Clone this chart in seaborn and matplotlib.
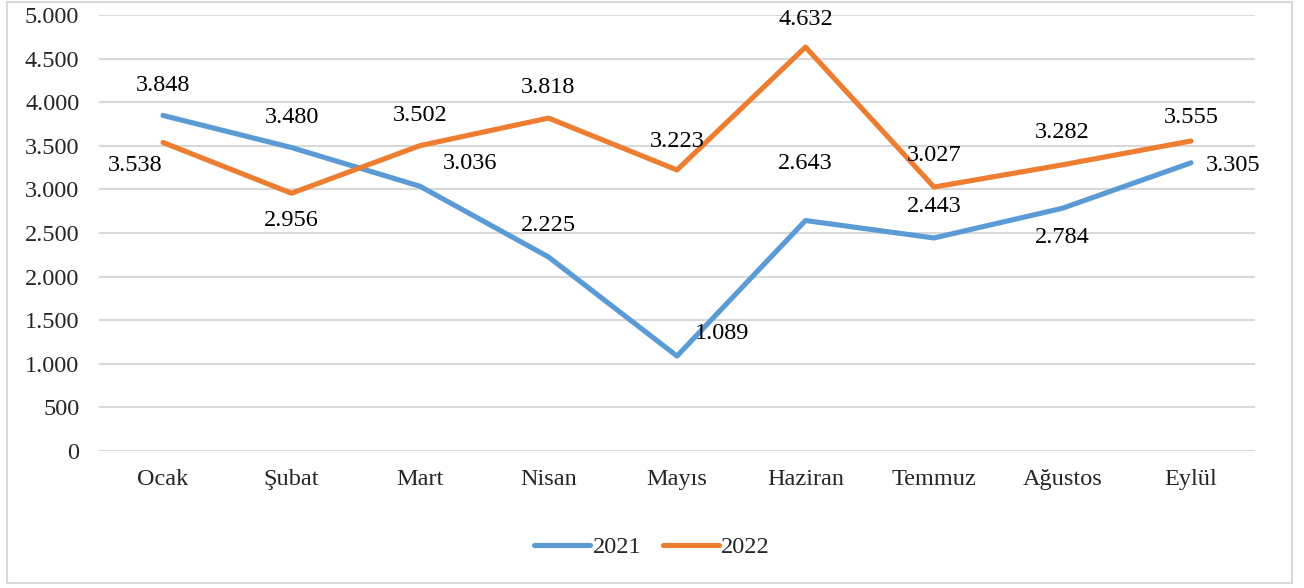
import pandas as pd
import seaborn as sns
import matplotlib.pyplot as plt
from matplotlib.patches import Rectangle
from matplotlib.ticker import FuncFormatter

# veriler
aylar = ["Ocak", "Şubat", "Mart", "Nisan", "Mayıs", "Haziran", "Temmuz", "Ağustos", "Eylül"]
y2021 = [3848, 3480, 3036, 2225, 1089, 2643, 2443, 2784, 3305]
y2022 = [3538, 2956, 3502, 3818, 3223, 4632, 3027, 3282, 3555]

# etiket konumlari (piksel kaydirma)
off2021 = [(0, 30), (0, 30), (50, 23), (0, 31), (45, 23), (0, 57), (0, 31), (0, -29), (42, -3)]
off2022 = [(-28, -23), (0, -27), (0, 30), (0, 31), (0, 28), (0, 28), (0, 32), (0, 32), (0, 24)]

df = pd.DataFrame({
    "Ay": aylar * 2,
    "Deger": y2021 + y2022,
    "Yil": ["2021"] * len(aylar) + ["2022"] * len(aylar),
})

sns.set_style("white")
plt.rcParams["font.family"] = ["Liberation Serif", "DejaVu Serif"]
fs = 17.5

fig = plt.figure(figsize=(13.04, 5.88), dpi=100)
ax = fig.add_axes([98.75 / 1304, (588 - 451) / 588, (1255.25 - 98.75) / 1304, 436 / 588])

renkler = {"2021": "#5B9BD5", "2022": "#ED7D31"}
sns.lineplot(data=df, x="Ay", y="Deger", hue="Yil", palette=renkler, sort=False,
             linewidth=3.7, ax=ax, legend=False)
for ln in ax.lines:
    ln.set_solid_capstyle("round")
    ln.set_solid_joinstyle("round")

ax.set_xlim(-0.5, len(aylar) - 0.5)
ax.set_ylim(0, 5000)
ax.set_yticks(range(0, 5001, 500))
ax.yaxis.set_major_formatter(FuncFormatter(lambda v, p: f"{int(v):,}".replace(",", ".")))
ax.grid(axis="y", color="#D9D9D9", linewidth=1.5)
ax.set_axisbelow(True)
for s in ax.spines.values():
    s.set_visible(False)
ax.tick_params(axis="both", length=0, labelsize=fs)
ax.tick_params(axis="y", pad=14)
ax.tick_params(axis="x", pad=13)
ax.set_xlabel("")
ax.set_ylabel("")

fmt = lambda v: f"{v:,}".replace(",", ".")
for vals, offs in [(y2021, off2021), (y2022, off2022)]:
    for i, (v, o) in enumerate(zip(vals, offs)):
        ax.annotate(fmt(v), (i, v), xytext=o, textcoords="offset pixels",
                    ha="center", va="center", fontsize=fs, color="black")

handles = [plt.Line2D([], [], color=renkler[k], linewidth=3.7, solid_capstyle="round") for k in renkler]
fig.legend(handles, list(renkler), loc="center", bbox_to_anchor=(0.5, (588 - 547) / 588),
           ncol=2, frameon=False, fontsize=fs, handlelength=2.3, handletextpad=0.1,
           columnspacing=0.9)

fig.patches.append(Rectangle((7 / 1304, (588 - 583) / 588), (1292 - 7) / 1304, 581 / 588,
                             transform=fig.transFigure, fill=False, edgecolor="#D9D9D9",
                             linewidth=1.5))

fig.savefig("out.png", dpi=100, facecolor="white")
